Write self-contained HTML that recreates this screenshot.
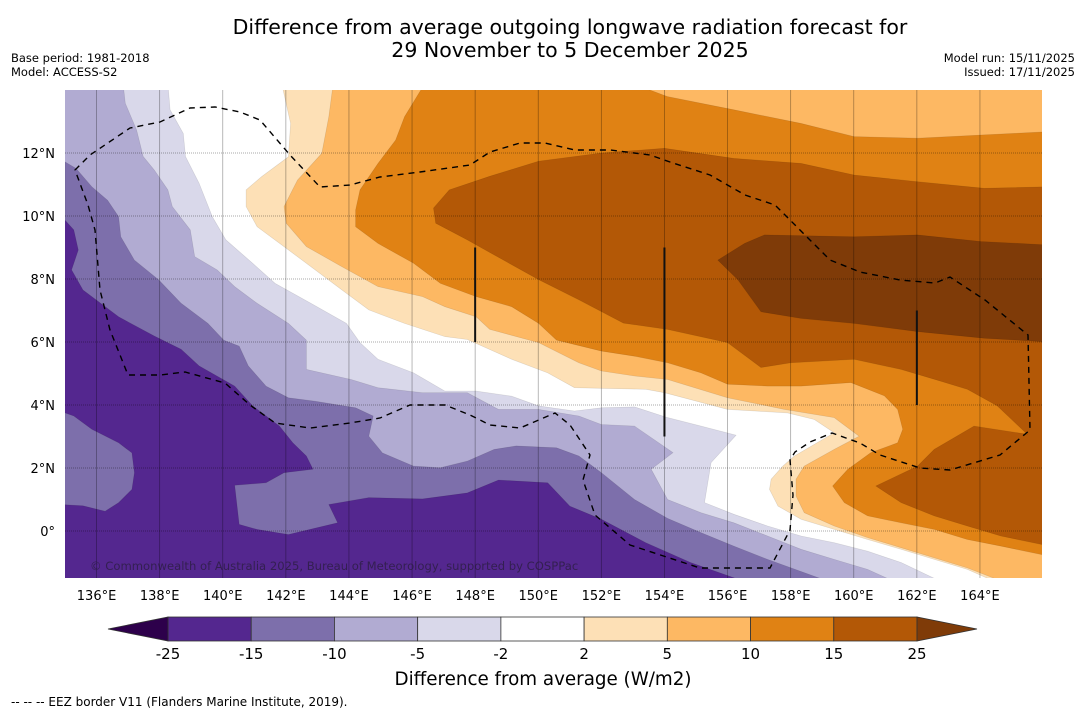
<!DOCTYPE html>
<html><head><meta charset="utf-8"><style>
body{margin:0;background:#fff;width:1085px;height:713px;overflow:hidden;font-family:"DejaVu Sans","Liberation Sans",sans-serif;}
svg text{font-family:"DejaVu Sans","Liberation Sans",sans-serif;}
</style></head><body>
<svg id="chart" width="1085" height="713" xmlns="http://www.w3.org/2000/svg">
<text x="570" y="34" font-size="20.5" text-anchor="middle">Difference from average outgoing longwave radiation forecast for</text>
<text x="570" y="57" font-size="20.5" text-anchor="middle">29 November to 5 December 2025</text>
<text x="11" y="62" font-size="11.5">Base period: 1981-2018</text>
<text x="11" y="76" font-size="11.5">Model: ACCESS-S2</text>
<text x="1075" y="62" font-size="11.5" text-anchor="end">Model run: 15/11/2025</text>
<text x="1075" y="76" font-size="11.5" text-anchor="end">Issued: 17/11/2025</text>
<defs><clipPath id="mapclip"><rect x="65" y="90" width="977" height="488"/></clipPath></defs>
<g id="map" clip-path="url(#mapclip)"></g>
<g id="axes"></g>
<g id="cbar"></g>
<text x="543" y="685" font-size="18.3" text-anchor="middle">Difference from average (W/m2)</text>
<text x="11" y="706" font-size="12">--  --  -- EEZ border V11 (Flanders Marine Institute, 2019).</text>
</svg>
<script>
const levels = [-25,-15,-10,-5,-2,2,5,10,15,25];
const colors = ['#54278f','#7d6fab','#b1abd2','#d9d8ea','#ffffff','#fde0b6','#fdb863','#e08214','#b35806','#7f3b08'];
const lonTicks = [136,138,140,142,144,146,148,150,152,154,156,158,160,162,164];
const latTicks = [0,2,4,6,8,10,12];
const regionLevel = [1,1,2,3,4,5,6,7,8,9];
const regionPolys = [
[[135,9.87],[135.28,9.56],[135.42,8.92],[135.21,8.29],[135.57,7.65],[136.7,6.8],[137.83,6.19],[138.68,5.77],[139.25,5.24],[140.38,4.6],[140.95,3.97],[141.8,3.33],[142.22,2.8],[142.65,2.38],[142.86,1.96],[141.94,1.85],[141.37,1.53],[140.38,1.45],[140.52,0.21],[141.09,0.05],[142.08,-0.11],[143.64,0.26],[143.36,0.84],[144.63,1.06],[146.33,1.02],[147.75,1.21],[148.74,1.62],[150.3,1.53],[151,0.79],[152,0.37],[153.41,-0.37],[154.83,-1.0],[156.25,-1.5],[156.3,-1.6],[166.2,-1.6],[166.2,14.2],[135,14.2]],
[[135,3.75],[135.28,3.65],[135.85,3.23],[136.7,2.8],[137.12,2.48],[137.2,1.85],[137.12,1.32],[136.7,0.9],[136.27,0.63],[135.57,0.8],[134.9,0.84]],
[[134.9,11.78],[135.35,11.51],[135.85,10.93],[136.35,10.5],[136.7,9.98],[136.77,9.34],[137.2,8.6],[137.97,7.97],[138.68,7.23],[139.53,6.59],[140.03,6.06],[140.52,5.87],[140.81,5.24],[141.37,4.6],[142.08,4.23],[142.93,4.12],[144.21,3.91],[144.77,3.65],[144.63,3.01],[145.06,2.48],[146.05,2.06],[146.9,2.01],[147.75,2.22],[148.6,2.59],[149.3,2.7],[150.58,2.64],[151.29,2.38],[152,1.85],[153.05,1.0],[154.1,0.4],[155.16,-0.05],[156.2,-0.48],[157.27,-0.9],[159.2,-1.6],[166.2,-1.6],[166.2,14.2],[134.9,14.2]],
[[136.84,14.2],[136.91,13.58],[137.27,12.73],[137.48,11.89],[137.83,11.46],[138.26,10.83],[138.4,10.3],[138.97,9.56],[139.11,8.71],[139.82,8.29],[140.38,7.76],[141.09,7.23],[142.08,6.59],[142.65,6.06],[142.65,5.13],[144.07,4.81],[144.92,4.55],[146.33,4.39],[147.75,4.39],[148.74,3.86],[150.01,3.86],[151.29,3.65],[152,3.38],[153.05,3.33],[154.27,2.49],[153.58,1.96],[154.1,1.0],[155.16,0.58],[156.2,0.26],[157.27,-0.16],[158.33,-0.58],[159.38,-0.9],[160.44,-1.22],[161.28,-1.6],[166.2,-1.6],[166.2,14.2]],
[[138.26,14.2],[138.33,13.37],[138.75,12.62],[138.82,11.89],[139.25,11.04],[139.67,9.98],[140.1,9.24],[140.95,8.5],[141.66,7.86],[142.79,7.23],[143.92,6.59],[144.35,5.98],[144.92,5.45],[146.05,5.02],[147.04,4.44],[148.03,4.44],[149.16,4.28],[150.01,3.97],[151.15,3.81],[152,3.91],[153.05,3.94],[154.1,3.6],[155.16,3.33],[156.27,3.04],[155.48,2.17],[155.27,0.9],[156.2,0.53],[157.27,0.16],[158.33,-0.16],[159.38,-0.37],[160.44,-0.64],[161.5,-1.0],[162.55,-1.5],[162.6,-1.6],[166.2,-1.6],[166.2,14.2]],
[[141.87,14.2],[142.15,12.94],[142.08,11.88],[141.23,11.25],[140.74,10.83],[140.74,10.3],[141.09,9.66],[141.94,9.03],[142.93,8.29],[143.78,7.65],[144.63,7.02],[145.76,6.59],[147.04,6.17],[147.75,6.08],[149.16,5.45],[150.3,5.02],[151.15,4.55],[153.41,4.5],[154,4.39],[156,3.86],[157.9,3.75],[158.75,3.54],[159.38,3.12],[158.12,2.38],[157.75,2.06],[157.38,1.64],[157.33,1.32],[157.6,0.79],[158.33,0.37],[159.38,0.05],[160.44,-0.27],[161.5,-0.58],[162.55,-0.9],[163.6,-1.22],[164.24,-1.5],[164.3,-1.6],[166.2,-1.6],[166.2,14.2]],
[[143.5,14.2],[143.36,13.15],[143.14,11.99],[142.37,11.14],[141.94,10.3],[142.01,9.77],[142.65,9.03],[143.78,8.39],[144.92,7.76],[146.33,7.44],[147.04,7.12],[148.03,6.8],[148.46,6.4],[150.01,5.98],[151.29,5.34],[152,5.08],[153.05,4.92],[154.1,4.81],[156,4.23],[157.8,3.86],[159.38,3.6],[160.17,3.01],[159.38,2.59],[158.43,2.06],[158.17,1.64],[158.17,1.11],[158.43,0.58],[159.38,0.16],[160.44,-0.21],[161.5,-0.53],[162.55,-0.85],[163.6,-1.17],[164.45,-1.5],[164.5,-1.6],[166.2,-1.6],[166.2,14.2]],
[[146.4,14.2],[145.76,13.15],[145.48,12.41],[144.92,11.67],[144.35,10.83],[144.21,10.19],[144.21,9.66],[144.92,9.13],[146.05,8.5],[146.9,7.86],[148.03,7.44],[149.16,7.12],[150.01,6.59],[150.58,6.06],[152,5.71],[153.05,5.55],[154.1,5.34],[155.16,5.02],[156,4.66],[157.27,4.6],[158.33,4.6],[159.91,4.71],[160.97,4.29],[161.39,3.86],[161.55,3.23],[161.39,2.8],[160.54,2.49],[159.81,1.96],[159.33,1.43],[159.7,0.9],[160.44,0.48],[161.5,0.26],[162.55,0.05],[163.6,-0.27],[164.66,-0.48],[166.2,-0.8],[166.2,12.68],[164.02,12.57],[162.02,12.47],[160.01,12.52],[158.33,12.94],[156.2,13.37],[154.1,13.79],[153,14.2]],
[[146.68,10.25],[147.18,10.83],[148.46,11.26],[150.01,11.74],[152,12.0],[154,12.15],[156.2,11.83],[158.33,11.67],[160.01,11.3],[162.02,11.09],[164.13,10.88],[166.2,10.93],[166.2,-0.48],[164.66,-0.16],[163.6,0.16],[162.55,0.48],[161.5,0.9],[160.7,1.43],[162.02,2.06],[162.55,2.59],[163.81,3.33],[165.5,3.07],[164.55,3.97],[163.6,4.5],[162.55,4.82],[161.5,5.13],[160.01,5.45],[158,5.34],[157.06,5.19],[156,5.98],[154.1,6.4],[152.7,6.6],[151.29,7.34],[150.01,7.98],[148.88,8.61],[147.75,9.24],[146.75,9.77]],
[[155.69,8.6],[156.54,9.13],[157.17,9.4],[160.01,9.34],[162.02,9.4],[164.03,9.19],[166.2,9.08],[166.2,6.0],[164.13,6.12],[162.02,6.33],[160.01,6.59],[158.33,6.75],[157.06,6.96],[156.33,7.97]]
];
const regionNames = ['le-minus15-main','le-minus15-blob','ge-minus10','ge-minus5','ge-minus2','ge-2','ge-5','ge-10','ge-15','ge-25'];
const stripeLon = [148,154,162];
const stripeLat0 = [6,3,4];
const stripeLat1 = [9,9,7];

const X0=65, PXLON=31.55, Y0=531, PXLAT=31.5;
const xs = lon => X0 + (lon-135)*PXLON;
const ys = lat => Y0 - lat*PXLAT;
const NS='http://www.w3.org/2000/svg';
function mk(tag, attrs, parent){const e=document.createElementNS(NS,tag);for(const k in attrs)e.setAttribute(k,attrs[k]);parent.appendChild(e);return e;}
const map=document.getElementById('map');
const bg=mk('rect',{x:65,y:90,width:977,height:488,fill:colors[0]},map);


regionPolys.forEach((poly,i)=>{
  const p=mk('polygon',{points:poly.map(q=>xs(q[0]).toFixed(1)+','+ys(q[1]).toFixed(1)).join(' '),fill:colors[regionLevel[i]],stroke:'rgba(0,0,0,0.12)','stroke-width':0.6},map);
  
  
});
lonTicks.forEach(l=>{
  const g=mk('line',{x1:xs(l),x2:xs(l),y1:90,y2:578,stroke:'rgba(0,0,0,0.35)','stroke-width':0.8},map);
  
  
});
latTicks.forEach(l=>{
  const g=mk('line',{x1:65,x2:1042,y1:ys(l),y2:ys(l),stroke:'rgba(0,0,0,0.45)','stroke-width':0.8,'stroke-dasharray':'1,1'},map);
  
  
});
stripeLon.forEach((l,i)=>{
  const s=mk('line',{x1:xs(l),x2:xs(l),y1:ys(stripeLat0[i]),y2:ys(stripeLat1[i]),stroke:'#111','stroke-width':2},map);
  
  
});
const eez=mk('path',{d:'M75,170 L90,155 L130,128 L160,122 L190,108 L215,107 L240,112 L260,120 L290,155 L320,187 L350,185 L380,177 L420,172 L470,165 L490,152 L520,143 L545,143 L575,150 L610,150 L650,155 L670,162 L710,175 L745,195 L775,205 L800,230 L830,260 L860,272 L900,280 L935,283 L950,277 L985,300 L1028,335 L1030,430 L1000,455 L950,470 L920,468 L880,455 L860,443 L832,433 L810,442 L795,452 L790,460 L793,495 L790,530 L770,568 L700,568 L630,545 L595,515 L583,480 L590,455 L570,425 L555,413 L520,428 L490,425 L470,415 L445,405 L410,405 L380,418 L350,423 L310,428 L275,423 L250,405 L225,383 L185,372 L160,375 L128,375 L110,330 L100,290 L95,230 L88,205 Z',fill:'none',stroke:'#000','stroke-width':1.4,'stroke-dasharray':'6,5'},map);


const cp=mk('text',{x:90,y:570,'font-size':11.6,fill:'rgba(40,30,60,0.75)'},map);
cp.textContent='© Commonwealth of Australia 2025, Bureau of Meteorology, supported by COSPPac';


const axes=document.getElementById('axes');
lonTicks.forEach(l=>{
  const t=mk('text',{x:xs(l),y:600,'font-size':13,'text-anchor':'middle'},axes);
  t.textContent=l+'°E';
  
  
});
latTicks.forEach(l=>{
  const t=mk('text',{x:55,y:ys(l)+5,'font-size':13,'text-anchor':'end'},axes);
  t.textContent=l===0?'0°':l+'°N';
  
  
});
const cb=document.getElementById('cbar');
const cbX0=168, cbW=(917-168)/9, cbY=617, cbH=24;
for(let i=0;i<9;i++){
  const r=mk('rect',{x:cbX0+i*cbW,y:cbY,width:cbW,height:cbH,fill:colors[i],stroke:'#333','stroke-width':0.8},cb);
  
  
}
const tl=mk('polygon',{points:`108,629 ${cbX0},${cbY} ${cbX0},${cbY+cbH}`,fill:'#2d004b',stroke:'#333','stroke-width':0.8},cb);


const tr=mk('polygon',{points:`977,629 917,${cbY} 917,${cbY+cbH}`,fill:colors[9],stroke:'#333','stroke-width':0.8},cb);


levels.forEach((v,i)=>{
  const t=mk('text',{x:cbX0+i*cbW,y:659,'font-size':15,'text-anchor':'middle'},cb);
  t.textContent=v;
  
  
});
</script>
</body></html>
